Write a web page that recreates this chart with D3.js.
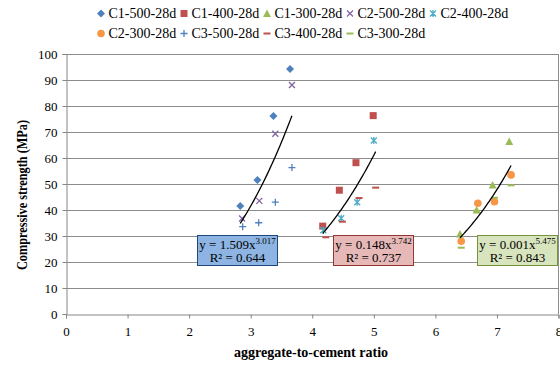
<!DOCTYPE html>
<html><head><meta charset="utf-8">
<script src="https://cdn.jsdelivr.net/npm/d3@7"></script>
<style>body{margin:0;background:#fff}svg{display:block}svg text{font-family:"Liberation Serif","Times New Roman",serif}</style>
</head><body>
<script>
const seriesNames = ["C1-500-28d","C1-400-28d","C1-300-28d","C2-500-28d","C2-400-28d","C2-300-28d","C3-500-28d","C3-400-28d","C3-300-28d"];
const seriesX = [
  [2.83,3.11,3.37,3.64],
  [4.17,4.44,4.71,4.99],
  [6.40,6.67,6.93,7.20],
  [2.86,3.14,3.40,3.67],
  [4.18,4.47,4.73,5.00],
  [6.42,6.69,6.96,7.23],
  [2.87,3.13,3.40,3.67],
  [4.22,4.49,4.76,5.03],
  [6.42,6.67,6.96,7.23]
];
const seriesY = [
  [41.5,51.5,76.2,94.2],
  [33.8,47.6,58.2,76.3],
  [30.8,40.0,49.6,66.3],
  [36.7,43.5,69.3,88.1],
  [32.2,36.8,43.0,66.7],
  [28.0,42.6,43.2,53.5],
  [33.6,35.1,43.0,56.3],
  [29.5,35.5,44.6,48.6],
  [25.5,39.7,44.7,49.5]
];
const seriesColors = ["#4F81BD","#C0504D","#9BBB59","#8064A2","#4BACC6","#F79646","#4F81BD","#C0504D","#9BBB59"];
const seriesMarkers = ["diamond","square","triangle","x","star","circle","plus","dash","dash"];
// trendline groups (series indices), power fit coefficients, labels
const trendGroups = [[0,3,6],[1,4,7],[2,5,8]];
const trendA = [1.509, 0.148, 0.00113];
const trendB = [3.017, 3.742, 5.475];
const trendCoefText = ["1.509","0.148","0.001"];
const trendExpText = ["3.017","3.742","5.475"];
const trendR2Text = ["0.644","0.737","0.843"];
const trendBoxFill = ["#8DB4E2","#E6B9B8","#D7E4BD"];
const trendBoxStroke = ["#1F497D","#943634","#76923C"];
const xTicks = [0,1,2,3,4,5,6,7,8];
const yTicks = [0,10,20,30,40,50,60,70,80,90,100];

const W=560,H=365;
const svg=d3.select("body").append("svg").attr("width",W).attr("height",H);
const serif="Liberation Serif, Times New Roman, serif";
const x=d3.scaleLinear().domain([0,8]).range([66,558.5]);
const y=d3.scaleLinear().domain([0,100]).range([314,54]);

// gridlines
svg.append("g").selectAll("line").data(yTicks.filter(d=>d>0)).join("line")
  .attr("x1",x(0)).attr("x2",x(8)).attr("y1",d=>Math.round(y(d))+0.5).attr("y2",d=>Math.round(y(d))+0.5)
  .attr("stroke","#8c8c8c").attr("stroke-width",1);
svg.append("line").attr("x1",Math.round(x(8))-0.5).attr("x2",Math.round(x(8))-0.5).attr("y1",y(100)).attr("y2",y(0))
  .attr("stroke","#8c8c8c");

// axes
const gx=svg.append("g").attr("transform",`translate(0,${Math.round(y(0))+0.5})`)
  .call(d3.axisBottom(x).tickValues(xTicks).tickFormat(d3.format("d")).tickSize(4).tickPadding(8));
const gy=svg.append("g").attr("transform",`translate(${Math.round(x(0))+0.5},0)`)
  .call(d3.axisLeft(y).tickValues(yTicks).tickFormat(d3.format("d")).tickSize(4).tickPadding(5));
[gx,gy].forEach(g=>{
  g.attr("font-family",serif);
  g.select(".domain").attr("stroke","#868686");
  g.selectAll(".tick line").attr("stroke","#868686");
  g.selectAll("text").attr("font-size",13).attr("fill","#000");
});

// axis titles
svg.append("text").attr("x",311).attr("y",357).attr("text-anchor","middle")
  .attr("font-weight","bold").attr("font-size",14).text("aggregate-to-cement ratio");
svg.append("text").attr("transform","translate(27,195) rotate(-90)").attr("text-anchor","middle")
  .attr("font-weight","bold").attr("font-size",14).attr("textLength",150).attr("lengthAdjust","spacingAndGlyphs")
  .text("Compressive strength (MPa)");

// marker drawing
function drawMarker(g,type,color){
  switch(type){
    case "diamond": g.append("path").attr("d","M0,-4L4,0L0,4L-4,0Z").attr("fill",color); break;
    case "square": g.append("rect").attr("x",-3.5).attr("y",-3.5).attr("width",7).attr("height",7).attr("fill",color); break;
    case "triangle": g.append("path").attr("d","M0,-4L4,3.5L-4,3.5Z").attr("fill",color); break;
    case "circle": g.append("circle").attr("r",3.8).attr("fill",color); break;
    case "x": g.append("path").attr("d","M-3,-3L3,3M-3,3L3,-3").attr("stroke",color).attr("stroke-width",1.3).attr("fill","none"); break;
    case "star": g.append("path").attr("d","M-3,-3L3,3M-3,3L3,-3M0,-3.5L0,3.5").attr("stroke",color).attr("stroke-width",1.3).attr("fill","none"); break;
    case "plus": g.append("path").attr("d","M-3.5,0L3.5,0M0,-3.5L0,3.5").attr("stroke",color).attr("stroke-width",1.3).attr("fill","none"); break;
    case "dash": g.append("rect").attr("x",-3.5).attr("y",-1).attr("width",7).attr("height",2).attr("fill",color); break;
  }
}

// points
seriesNames.forEach((name,i)=>{
  const pts=seriesX[i].map((xv,j)=>[xv,seriesY[i][j]]);
  svg.append("g").selectAll("g").data(pts).join("g")
    .attr("transform",d=>`translate(${x(d[0])},${y(d[1])})`)
    .each(function(){drawMarker(d3.select(this),seriesMarkers[i],seriesColors[i]);});
});

// trendlines
const line=d3.line().x(d=>x(d[0])).y(d=>y(d[1]));
trendGroups.forEach((grp,k)=>{
  const allX=grp.flatMap(i=>seriesX[i]);
  const [x0,x1]=d3.extent(allX);
  const pts=d3.range(0,41).map(t=>{const xv=x0+(x1-x0)*t/40;return [xv,trendA[k]*Math.pow(xv,trendB[k])];});
  svg.append("path").datum(pts).attr("d",line).attr("fill","none").attr("stroke","#000").attr("stroke-width",1.3);
});

// trend labels
const boxLeft=[2.13,4.34,6.68];
trendGroups.forEach((grp,k)=>{
  const bx=Math.round(x(boxLeft[k]))+0.5, by=Math.round(y(30))-0.5, bw=80, bh=30;
  const g=svg.append("g");
  g.append("rect").attr("x",bx).attr("y",by).attr("width",bw).attr("height",bh)
    .attr("fill",trendBoxFill[k]).attr("stroke",trendBoxStroke[k]).attr("stroke-width",1);
  const t1=g.append("text").attr("x",bx+bw/2).attr("y",by+13).attr("text-anchor","middle")
    .attr("font-size",13);
  t1.append("tspan").text(`y = ${trendCoefText[k]}x`);
  t1.append("tspan").attr("dy",-5).attr("font-size",9).text(trendExpText[k]);
  g.append("text").attr("x",bx+bw/2).attr("y",by+26.5).attr("text-anchor","middle")
    .attr("font-size",13).text(`R² = ${trendR2Text[k]}`);
});

// legend
const legendRows=[[0,1,2,3,4],[5,6,7,8]];
const legendCols=[101,184,267,350,433];
legendRows.forEach((row,r)=>{
  row.forEach((i,c)=>{
    const mx=legendCols[c], my=r===0?13.5:33.5;
    const g=svg.append("g").attr("transform",`translate(${mx},${my})`);
    drawMarker(g,seriesMarkers[i],seriesColors[i]);
    svg.append("text").attr("x",mx+7.5).attr("y",my+4.5).attr("font-size",14)
      .text(seriesNames[i]);
  });
});
</script>
</body></html>
